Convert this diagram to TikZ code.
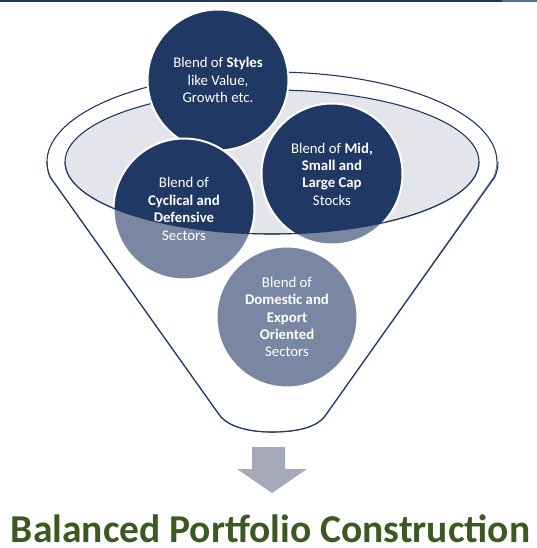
\documentclass[tikz,border=0pt]{standalone}
\usepackage{fontspec}
\setmainfont{Carlito}
\usepackage{tikz}

\definecolor{navy}{HTML}{203864}
\definecolor{navylight}{HTML}{5B6F92}
\definecolor{rimgray}{HTML}{E3E5EA}
\definecolor{arrowgray}{HTML}{A6A9B9}
\definecolor{titlegreen}{HTML}{3A5A22}

\begin{document}
\begin{tikzpicture}[
    x=1pt, y=-1pt,
    blend/.style={circle, fill=navy, draw=white, line width=2pt, minimum size=141pt,
        inner sep=0pt, align=center, text=white, font=\fontsize{14.8}{17.4}\selectfont},
    rim/.style={draw=navy, line width=1.1pt},
    front/.style={fill=white, fill opacity=0.4},
]
    \useasboundingbox (0,0) rectangle (537,548);

    % top bar
    \fill[navy] (0,0) rectangle (502,2.5);
    \fill[navylight] (502,0) rectangle (537,2);

    % funnel, back part
    \filldraw[fill=rimgray, rim] (272,162) ellipse[x radius=207, y radius=72];
    \draw[rim] (218,413) -- (50.15,177) arc[start angle=170.4, end angle=369.6, x radius=225, y radius=90]
        -- (325,416) .. controls (318,426) and (300,432) .. (272,432)
        .. controls (245,432) and (225,425) .. (218,413);

    % the four blends
    \node[blend] (styles) at (218,80) {Blend of \textbf{Styles}\\like Value,\\Growth etc.};
    \node[blend] (midcap) at (332,174) {Blend of \textbf{Mid,}\\\textbf{Small and}\\\textbf{Large Cap}\\Stocks};
    \node[blend] (cyclical) at (184,209) {Blend of\\\textbf{Cyclical and}\\\textbf{Defensive}\\Sectors};
    \node[blend] (domestic) at (287,317) {Blend of\\\textbf{Domestic and}\\\textbf{Export}\\\textbf{Oriented}\\Sectors};

    % funnel, front part
    \fill[front] (47,162) arc[start angle=180, end angle=170.4, x radius=225, y radius=90]
        -- (218,413) .. controls (225,425) and (245,432) .. (272,432)
        .. controls (300,432) and (318,426) .. (325,416)
        -- (494.85,177) arc[start angle=9.6, end angle=0, x radius=225, y radius=90]
        -- (479,162) arc[start angle=0, end angle=180, x radius=207, y radius=72] -- cycle;
    \draw[rim] (47,162) arc[start angle=180, end angle=170.4, x radius=225, y radius=90]
        -- (218,413) .. controls (225,425) and (245,432) .. (272,432)
        .. controls (300,432) and (318,426) .. (325,416)
        -- (494.85,177) arc[start angle=9.6, end angle=0, x radius=225, y radius=90];
    \draw[rim] (479,162) arc[start angle=0, end angle=180, x radius=207, y radius=72];

    % arrow and result
    \fill[arrowgray] (252,447) -- (285,447) -- (285,469) -- (307,469) -- (272,493)
        -- (237,469) -- (252,469) -- cycle;
    \node[anchor=base, inner sep=0pt, text depth=0pt, text=titlegreen,
        font=\bfseries\fontsize{39.5}{41}\selectfont] (result)
        at (270.5,542) {Balanced Portfolio Construction};
\end{tikzpicture}
\end{document}
